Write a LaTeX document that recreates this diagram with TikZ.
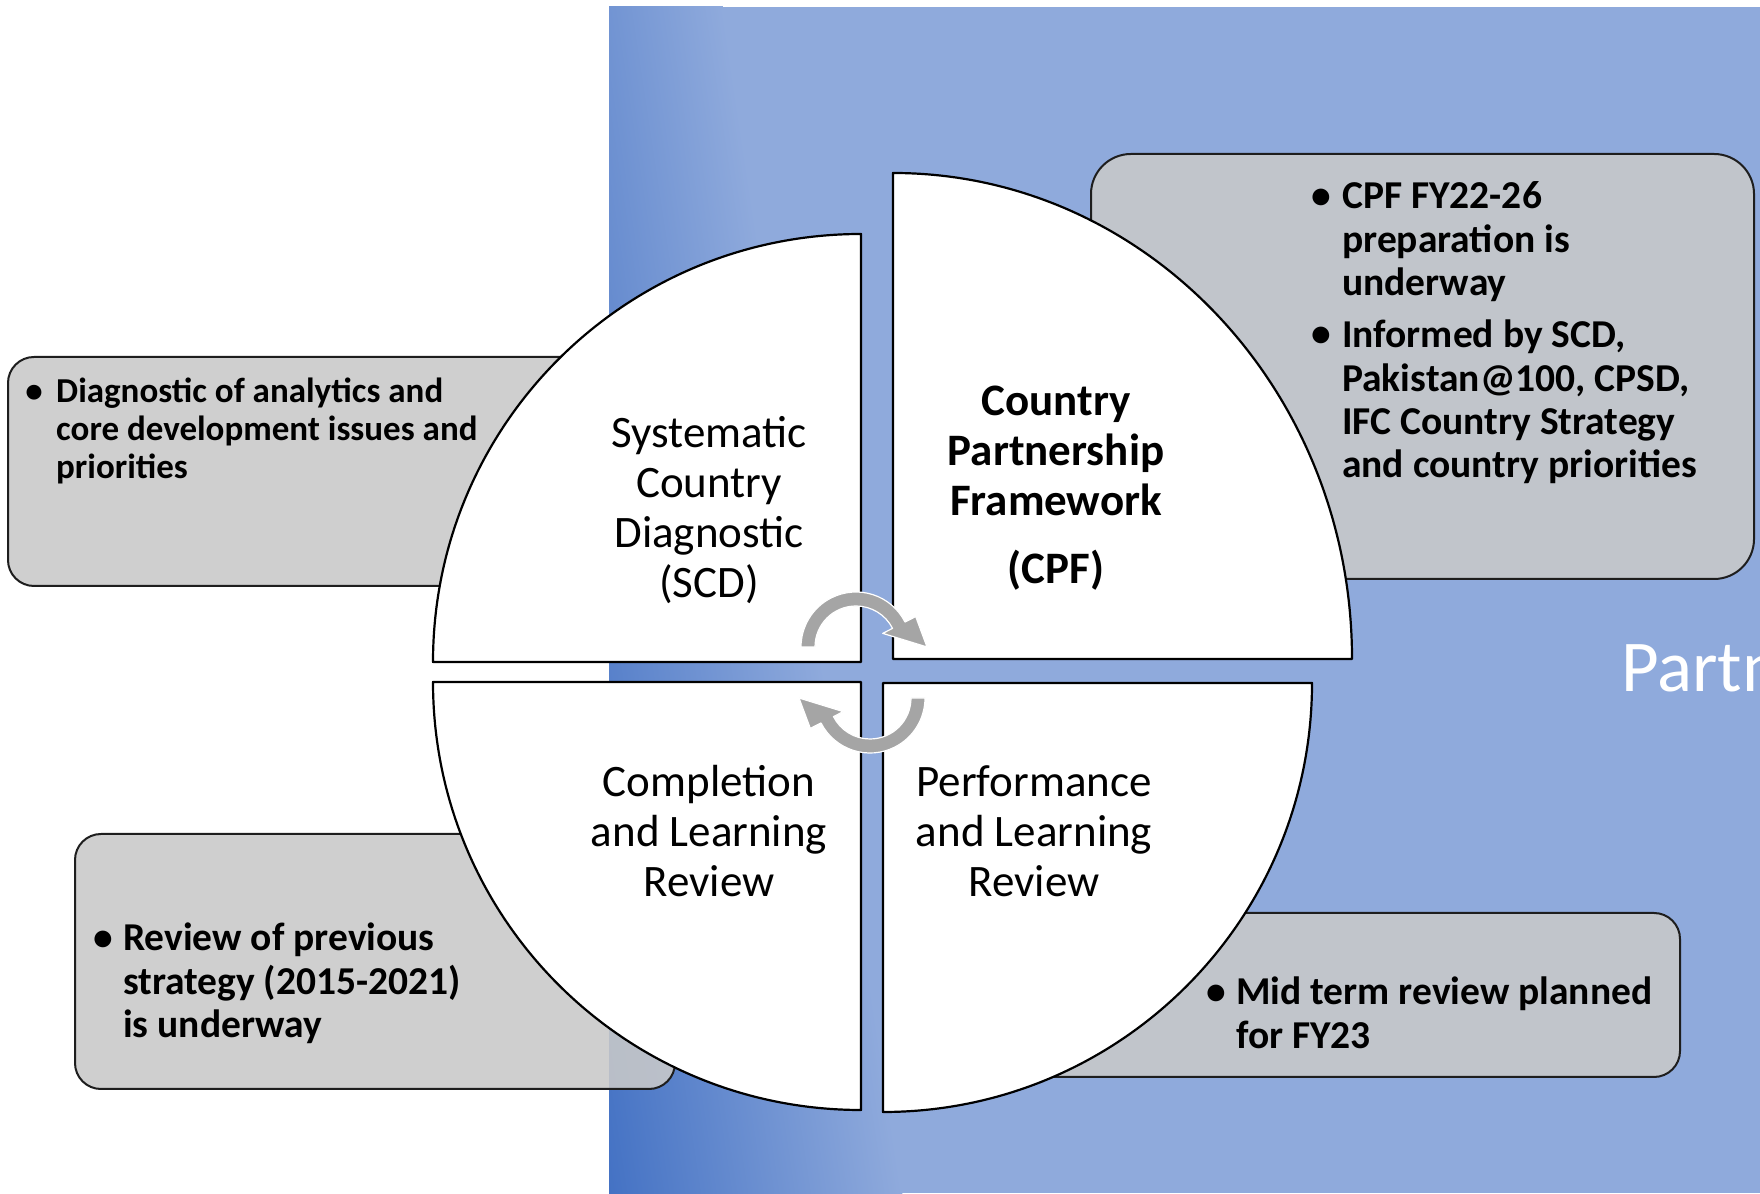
\documentclass[tikz,border=0pt]{standalone}
\usepackage{fontspec}
\setmainfont{Carlito}
\definecolor{bluedark}{HTML}{4472C4}
\definecolor{bluelight}{HTML}{8FAADC}
\definecolor{boxgray}{HTML}{C9C9C9}
\definecolor{boxline}{HTML}{1E1E1E}
\definecolor{cyclegray}{HTML}{A5A5A5}

\begin{document}
\begin{tikzpicture}[x=1pt,y=1pt,
  quadrant/.style={fill=white, draw=black, line width=2.2pt, line join=round},
  notebox/.style={fill=boxgray, fill opacity=0.88, draw=boxline, line width=2pt},
  cyclearrow/.style={fill=cyclegray, draw=white, line width=1.2pt, line join=round},
  qlabel/.style={inner sep=0pt, align=center, anchor=base, font=\fontsize{45}{50}\selectfont},
  note/.style={inner sep=0pt, align=left, anchor=base west, font=\bfseries\fontsize{39.5}{43.3}\selectfont},
  smallnote/.style={note, font=\bfseries\fontsize{35}{38}\selectfont},
  dot/.style={inner sep=0pt, anchor=base, font=\bfseries\fontsize{39.5}{43.3}\selectfont},
]
\useasboundingbox (0,0) rectangle (1760,1193);
\fill[white] (0,0) rectangle (1760,1193);

% blue panel with a tilted gradient from the lower left corner
\begin{scope}
  \clip (609,0) rectangle (1760,1186);
  \fill[bluelight] (609,0) rectangle (1760,1186);
  \begin{scope}[transform canvas={rotate around={8.6:(609,0)}}]
    \shade[left color=bluedark, right color=bluelight] (609,-400) rectangle (899,1700);
  \end{scope}
\end{scope}

% note boxes behind the cycle
\draw[notebox, rounded corners=26pt] (8,607) rectangle (650,836);
\draw[notebox, rounded corners=40pt] (1091,614) rectangle (1754,1039);
\draw[notebox, rounded corners=26pt] (75,104) rectangle (675,359);
\draw[notebox, rounded corners=26pt] (1000,116) rectangle (1680,280);

% the four quarters of the cycle
\draw[quadrant] (861,531) -- (433,531) arc[start angle=180, end angle=90, radius=428] -- cycle;
\draw[quadrant] (893,534) -- (893,1020) arc[start angle=90, end angle=0, x radius=459, y radius=486] -- cycle;
\draw[quadrant] (861,511) -- (433,511) arc[start angle=180, end angle=270, radius=428] -- cycle;
\draw[quadrant] (883,510) -- (1312,510) arc[start angle=0, end angle=-90, radius=429] -- cycle;

% circular arrows in the middle
\begin{scope}[shift={(856,546)}]
  \filldraw[cyclearrow] (180:41) arc[start angle=180, end angle=27, radius=41]
    -- (27:30) -- (71,0) -- (27:67) -- (27:55)
    arc[start angle=27, end angle=180, radius=55] -- cycle;
\end{scope}
\begin{scope}[shift={(870,495)}]
  \filldraw[cyclearrow] (0:41) arc[start angle=0, end angle=-153, radius=41]
    -- (207:30) -- (-71,0) -- (207:67) -- (207:55)
    arc[start angle=-153, end angle=0, radius=55] -- cycle;
\end{scope}

% quarter labels (anchored at the baseline of their last line)
\node[qlabel] (scd) at (709,595) {Systematic\\Country\\Diagnostic\\(SCD)};
\node[qlabel, font=\bfseries\fontsize{45}{50}\selectfont] (cpf) at (1056,609)
  {Country\\Partnership\\Framework\\[18pt](CPF)};
\node[qlabel] (clr) at (709,296) {Completion\\and Learning\\Review};
\node[qlabel] (plr) at (1034,296) {Performance\\and Learning\\Review};

% title running off the right edge
\begin{scope}
  \clip (0,0) rectangle (1760,1193);
  \node[inner sep=0pt, anchor=base west, text=white, font=\fontsize{73}{86}\selectfont]
    (partn) at (1621,501) {Partn};
\end{scope}

% note texts (bullets sit on the first line, texts anchored at their last line)
\node[dot, font=\bfseries\fontsize{35}{38}\selectfont] (b1) at (34,790) {•};
\node[smallnote] (t1) at (56,714)
  {Diagnostic of analytics and\\core development issues and\\priorities};

\node[dot] (b2) at (1321,984) {•};
\node[note] (t2) at (1342,897.4) {CPF FY22-26\\preparation is\\underway};
\node[dot] (b3) at (1321,846) {•};
\node[note] (t3) at (1342,715.1)
  {Informed by SCD,\\Pakistan@100, CPSD,\\IFC Country Strategy\\and country priorities};

\node[dot] (b4) at (103,242) {•};
\node[note] (t4) at (123,155.4) {Review of previous\\strategy (2015-2021)\\is underway};

\node[dot] (b5) at (1216,188) {•};
\node[note] (t5) at (1236,144.7) {Mid term review planned\\for FY23};
\end{tikzpicture}
\end{document}
